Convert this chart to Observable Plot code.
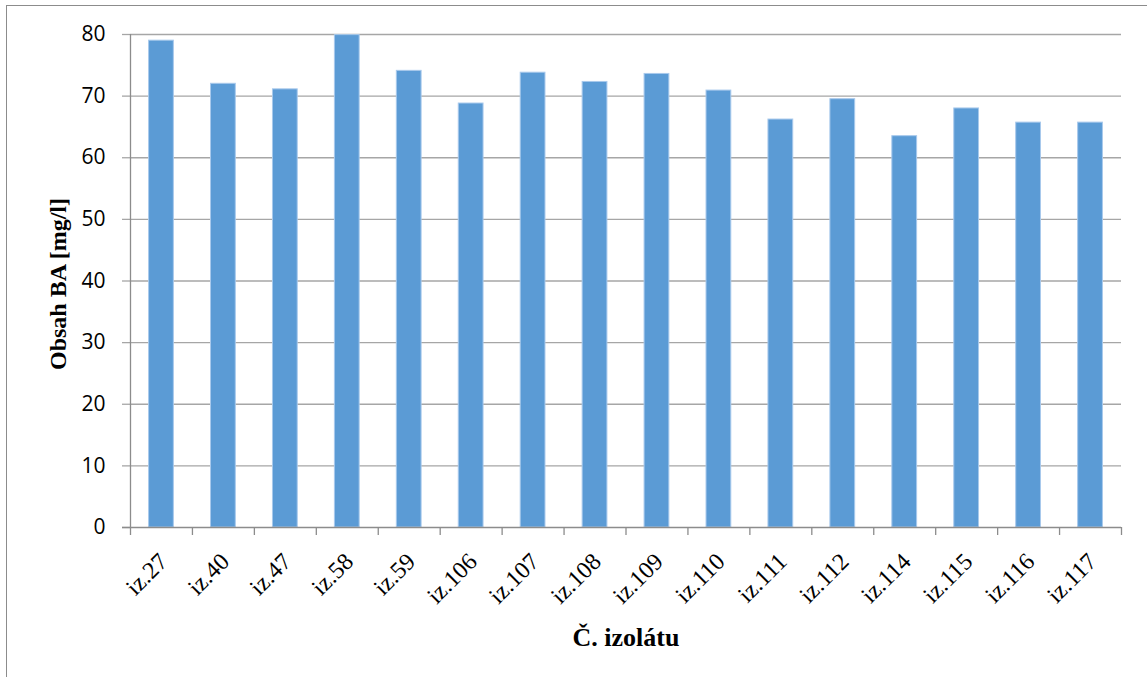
<!DOCTYPE html>
<html>
<head>
<meta charset="utf-8">
<script src="https://cdn.jsdelivr.net/npm/d3@7"></script>
<script src="https://cdn.jsdelivr.net/npm/@observablehq/plot@0.6"></script>
<style>
  html, body { margin: 0; padding: 0; background: #fff; }
  #chart { position: relative; width: 1147px; height: 677px; }
  #chart svg { display: block; }
  #frame { position: absolute; left: 6px; top: 5px; width: 1160px; height: 700px; border: 1.5px solid #8c8c8c; box-sizing: border-box; pointer-events: none; }
</style>
</head>
<body>
<div id="chart"><div id="frame"></div></div>
<script>
// Isolates and their BA content [mg/l]
const isolates = ["iz.27", "iz.40", "iz.47", "iz.58", "iz.59", "iz.106", "iz.107", "iz.108",
                  "iz.109", "iz.110", "iz.111", "iz.112", "iz.114", "iz.115", "iz.116", "iz.117"];
const baContent = [79.0, 72.0, 71.1, 79.9, 74.1, 68.8, 73.8, 72.3,
                   73.6, 70.9, 66.2, 69.5, 63.5, 68.0, 65.7, 65.7];
const yTicks = [0, 10, 20, 30, 40, 50, 60, 70, 80];
const yTitle = "Obsah BA [mg/l]";
const xTitle = "Č. izolátu";

// one row per isolate; position along x is the category index
const rows = isolates.map((name, i) => ({name, i, value: baContent[i]}));
const boundaries = d3.range(isolates.length + 1);
const barGap = 0.3; // empty share on each side of a bar within its category slot

const serif = "'Liberation Serif', 'Times New Roman', serif";
const sans = "'Open Sans', sans-serif";

const chart = Plot.plot({
  width: 1147,
  height: 677,
  marginLeft: 130,
  marginRight: 26,
  marginTop: 34,
  marginBottom: 150,
  style: {background: "transparent", overflow: "visible"},
  x: {type: "linear", domain: [0, isolates.length], axis: null},
  y: {domain: [0, 80], axis: null},
  marks: [
    // horizontal gridlines
    Plot.ruleY(yTicks.filter(t => t > 0), {x1: 0, x2: isolates.length, stroke: "#a6a6a6", strokeWidth: 1.3}),
    // short outer ticks on the y axis
    Plot.tickY(yTicks, {y: d => d, stroke: "#a6a6a6", strokeWidth: 1.3, render: (index, scales, values, dims, ctx, next) => {
      const g = next(index, scales, values, dims, ctx);
      d3.select(g).selectAll("line").attr("x1", dims.marginLeft - 8).attr("x2", dims.marginLeft);
      return g;
    }}),
    // bars
    Plot.rectY(rows, {x1: d => d.i + barGap, x2: d => d.i + 1 - barGap, y: "value",
      fill: "#5b9bd5", stroke: "#a8c9ec", strokeWidth: 1}),
    // axis lines
    Plot.ruleX([0], {y1: 0, y2: 80, stroke: "#8c8c8c", strokeWidth: 1.3}),
    Plot.ruleY([0], {x1: 0, x2: isolates.length, stroke: "#8c8c8c", strokeWidth: 1.3,
      render: (index, scales, values, dims, ctx, next) => {
        const g = next(index, scales, values, dims, ctx);
        d3.select(g).selectAll("line").attr("x1", dims.marginLeft - 8);
        return g;
      }}),
    // category boundary ticks below the x axis
    Plot.tickX(boundaries, {x: d => d, stroke: "#8c8c8c", strokeWidth: 1.3,
      render: (index, scales, values, dims, ctx, next) => {
        const g = next(index, scales, values, dims, ctx);
        const y0 = scales.y(0);
        d3.select(g).selectAll("line").attr("y1", y0).attr("y2", y0 + 8);
        return g;
      }}),
    // y tick labels
    Plot.text(yTicks, {x: 0, y: d => d, text: d => String(d), textAnchor: "end", dx: -25,
      fontFamily: sans, fontSize: 21, fill: "#000"}),
    // rotated category labels
    Plot.text(rows, {x: d => d.i + 0.5, y: 0, text: "name", rotate: -45, textAnchor: "end",
      lineAnchor: "middle", dx: 2, dy: 30, fontFamily: serif, fontSize: 24, fill: "#000"}),
    // axis titles
    Plot.text([yTitle], {frameAnchor: "left", dx: -72, dy: 3, rotate: -90, text: d => d,
      textAnchor: "middle", lineAnchor: "middle",
      fontFamily: serif, fontSize: 24, fontWeight: "bold", fill: "#000"}),
    Plot.text([xTitle], {frameAnchor: "bottom", dy: 110, text: d => d,
      textAnchor: "middle", lineAnchor: "middle",
      fontFamily: serif, fontSize: 26, fontWeight: "bold", fill: "#000"})
  ]
});

document.getElementById("chart").prepend(chart);
</script>
</body>
</html>
